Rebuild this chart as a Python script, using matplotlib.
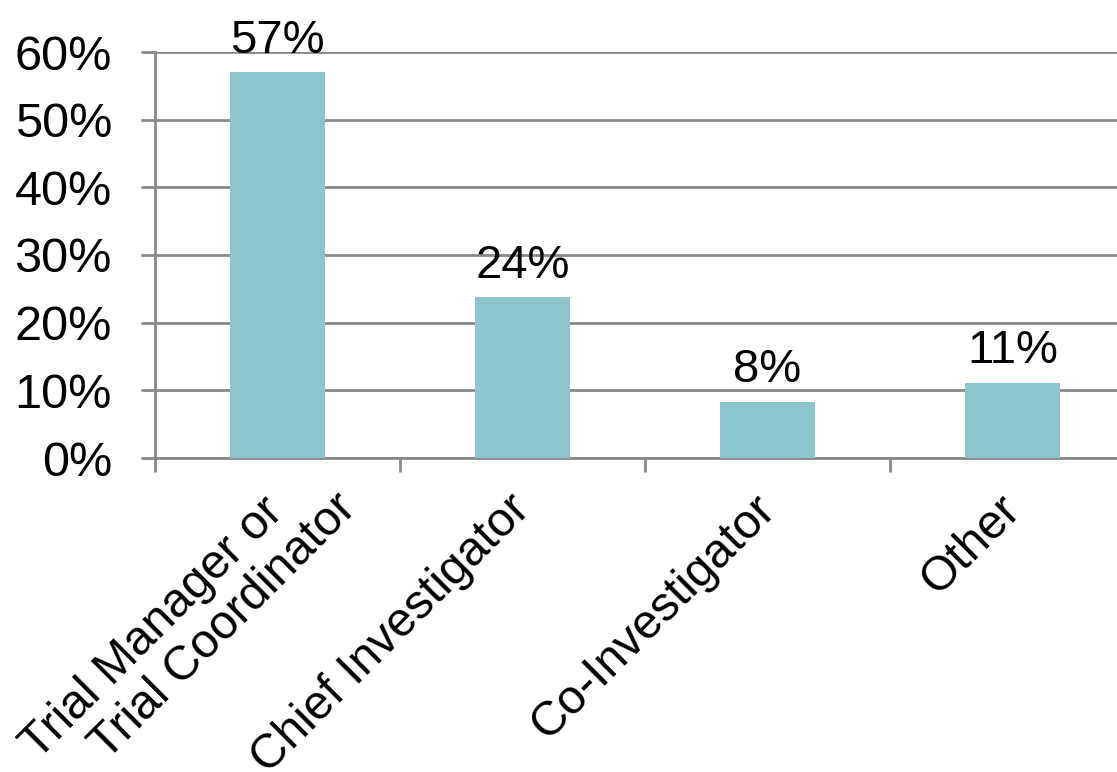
import matplotlib.pyplot as plt
from matplotlib.ticker import PercentFormatter
from matplotlib.transforms import ScaledTranslation

# --- Data ---
categories = ['Trial Manager or\n\u2003Trial Coordinator', 'Chief Investigator',
              'Co-Investigator', 'Other']
values = [57, 23.8, 8.3, 11.1]
labels = ['57%', '24%', '8%', '11%']
yticks = [0, 10, 20, 30, 40, 50, 60]

# --- Style ---
plt.rcParams['font.family'] = ['Liberation Sans', 'DejaVu Sans']
bar_color = '#8CC5CD'
grid_color = '#898989'
fs_tick = 35
fs_bar = 34
fs_cat = 34.5

fig = plt.figure(figsize=(11.17, 7.72), dpi=100)
ax = fig.add_axes([155 / 1117, (772 - 458) / 772, 980 / 1117, 406 / 772])

x = list(range(len(categories)))
ax.bar(x, values, width=0.39, color=bar_color, zorder=3)

for xi, v, lab in zip(x, values, labels):
    ax.annotate(lab, (xi, v), xytext=(0, 14), textcoords='offset points',
                ha='center', va='baseline', fontsize=fs_bar, zorder=4)

ax.set_xlim(-0.5, len(categories) - 0.5)
ax.set_ylim(0, 60)
ax.set_yticks(yticks)
ax.yaxis.set_major_formatter(PercentFormatter(decimals=0))
ax.grid(axis='y', color=grid_color, linewidth=2, zorder=0)

# category boundaries as ticks
ax.set_xticks([i - 0.5 for i in x])
ax.set_xticklabels([])

# rotated category names, end of first line sits under the bar centre
for xi, name in zip(x, categories):
    shift = 0
    if '\n' in name:
        shift = 1.055 * fs_cat * 0.7071  # second line hangs one em further
    off = ScaledTranslation((-11 + shift) / 72, (-20.5 + shift) / 72, fig.dpi_scale_trans)
    ax.text(xi, 0, name, transform=ax.get_xaxis_transform() + off,
            rotation=45, rotation_mode='anchor', ha='right', va='top',
            multialignment='left', linespacing=1.12, fontsize=fs_cat, clip_on=False)

ax.tick_params(axis='x', length=10, width=2, color=grid_color, direction='out')
ax.tick_params(axis='y', length=10, width=2, color=grid_color, labelsize=fs_tick, pad=21)

for side in ['top', 'right']:
    ax.spines[side].set_visible(False)
for side in ['left', 'bottom']:
    ax.spines[side].set_color(grid_color)
    ax.spines[side].set_linewidth(2)

fig.savefig('out.png', dpi=100)
